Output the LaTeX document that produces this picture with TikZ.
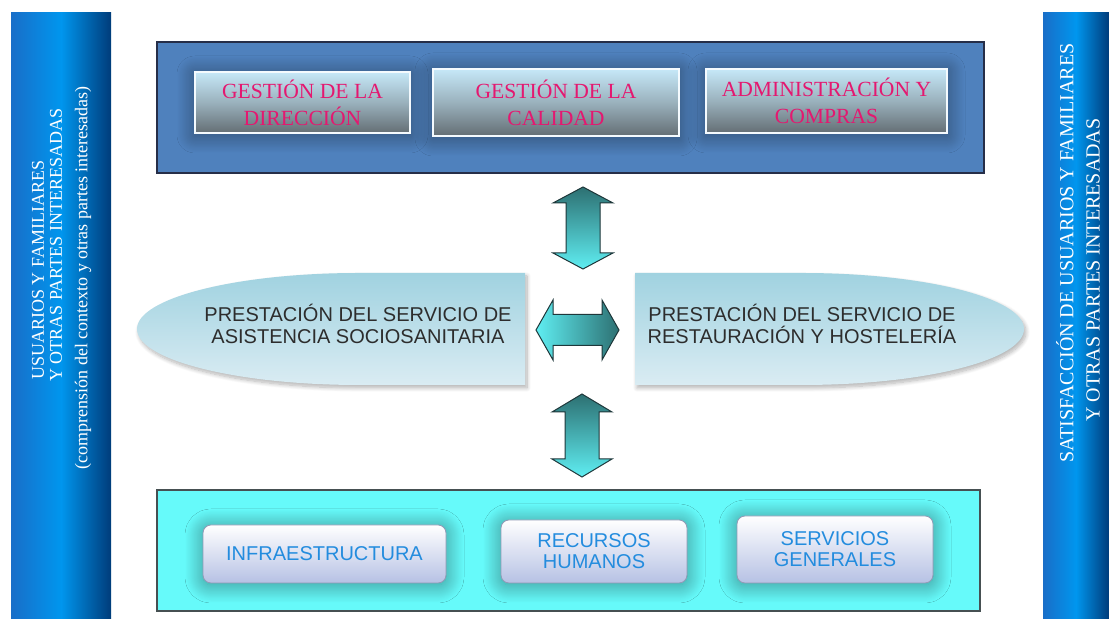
\documentclass[tikz,border=0pt]{standalone}
\usepackage{fontspec}
\setmainfont{Liberation Serif}
\setsansfont{Liberation Sans}
\usetikzlibrary{positioning,shadows.blur}
\definecolor{barmid}{RGB}{25,110,200}
\definecolor{barlight}{RGB}{0,150,238}
\definecolor{bardark}{RGB}{0,60,122}
\definecolor{gestblue}{RGB}{79,129,189}
\definecolor{gestline}{RGB}{38,46,72}
\definecolor{gestpink}{RGB}{228,24,112}
\definecolor{gestsky}{RGB}{198,232,248}
\definecolor{gestgray}{RGB}{100,110,116}
\definecolor{ovaltop}{RGB}{160,210,224}
\definecolor{ovalbot}{RGB}{218,236,243}
\definecolor{ovalink}{RGB}{45,45,45}
\definecolor{arrdark}{RGB}{45,112,114}
\definecolor{arrcyan}{RGB}{95,238,242}
\definecolor{arrline}{RGB}{30,55,58}
\definecolor{basecyan}{RGB}{102,250,250}
\definecolor{baseedge}{RGB}{70,80,82}
\definecolor{recblue}{RGB}{35,140,222}
\definecolor{reclav}{RGB}{182,193,228}

\begin{document}
\begin{tikzpicture}[x=0.5pt,y=0.5pt,
  sidebar/.style={inner sep=0pt, left color=barmid, right color=bardark, middle color=barlight},
  bartext/.style={text=white, rotate=90, inner sep=0pt},
  gestbox/.style={draw=white!80!gestsky, line width=0.6pt, inner sep=0pt, top color=gestsky, bottom color=gestgray, middle color=gestsky!55!gestgray, text=gestpink, align=center, font=\fontsize{10.8}{13.5}\selectfont, blur shadow={shadow xshift=0pt, shadow yshift=-1pt, shadow blur radius=9pt, shadow blur steps=30, shadow opacity=45}},
  oval/.style={top color=ovaltop, bottom color=ovalbot, blur shadow={shadow xshift=1pt, shadow yshift=-1.5pt, shadow blur radius=2pt, shadow blur steps=10, shadow opacity=30}},
  ovaltext/.style={text=ovalink, align=center, font=\sffamily\fontsize{10}{11}\selectfont},
  vblock/.style={draw=arrline, line width=0.5pt, top color=arrdark, bottom color=arrcyan},
  hblock/.style={draw=arrline, line width=0.5pt, left color=arrcyan, right color=arrdark},
  recbox/.style={draw=reclav!80!black, line width=0.4pt, rounded corners=4pt, inner sep=0pt, top color=white, bottom color=reclav, text=recblue, align=center, font=\sffamily\fontsize{10}{10.5}\selectfont, blur shadow={shadow xshift=0pt, shadow yshift=-1pt, shadow blur radius=9pt, shadow blur steps=30, shadow opacity=45}}]
\useasboundingbox (0,0) rectangle (1109,619);
% Side bars
\node[sidebar, minimum width=50pt, minimum height=303pt] (lbar) at (61,303) {};
\node[bartext, anchor=west, font=\fontsize{9}{10}\selectfont] (usu) at (38,239) {USUARIOS Y FAMILIARES};
\node[bartext, anchor=west, font=\fontsize{9}{10}\selectfont] (otras) at (56,237) {Y OTRAS PARTES INTERESADAS};
\node[bartext, font=\fontsize{9}{10}\selectfont] (compr) at (83,341) {(comprensión del contexto y otras partes interesadas)};
\node[sidebar, minimum width=33pt, minimum height=303pt] (rbar) at (1076,303) {};
\node[bartext, font=\fontsize{10}{11}\selectfont] (satis) at (1065,366) {SATISFACCIÓN DE USUARIOS Y FAMILIARES};
\node[bartext, font=\fontsize{10}{11}\selectfont] (partes) at (1093,349) {Y OTRAS PARTES INTERESADAS};
% Management block
\node[draw=gestline, line width=0.6pt, fill=gestblue, minimum width=413.5pt, minimum height=65.5pt] (mgmt) at (570.5,511.5) {};
\node[gestbox, minimum width=107.5pt, minimum height=30.5pt] (direc) at (302.5,516.5) {GESTIÓN DE LA\\DIRECCIÓN};
\node[gestbox, minimum width=123pt, minimum height=33.5pt] (calid) at (556,516.5) {GESTIÓN DE LA\\CALIDAD};
\node[gestbox, minimum width=120.5pt, minimum height=32pt] (admin) at (826.5,518) {ADMINISTRACIÓN Y\\COMPRAS};
% Service provision
\path[oval] (525,346) -- (359,346) arc[start angle=90, end angle=270, x radius=222, y radius=56] -- (525,234) -- cycle;
\path[oval] (635,346) -- (802,346) arc[start angle=90, end angle=-90, x radius=222, y radius=56] -- (635,234) -- cycle;
\node[ovaltext] (asist) at (358,295) {PRESTACIÓN DEL SERVICIO DE\\ASISTENCIA SOCIOSANITARIA};
\node[ovaltext] (resta) at (802,295) {PRESTACIÓN DEL SERVICIO DE\\RESTAURACIÓN Y HOSTELERÍA};
% Support block
\node[draw=baseedge, line width=0.6pt, fill=basecyan, minimum width=411.5pt, minimum height=60.5pt] (supp) at (568.5,68.5) {};
\node[recbox, minimum width=121.5pt, minimum height=29pt] (infra) at (324.5,65) {INFRAESTRUCTURA};
\node[recbox, minimum width=93pt, minimum height=31.5pt] (rrhh) at (594,67.5) {RECURSOS\\HUMANOS};
\node[recbox, minimum width=98pt, minimum height=33.5pt] (sgen) at (835,69.5) {SERVICIOS\\GENERALES};
% Block arrows
\coordinate (upc) at (583,391);
\coordinate (midc) at (577.5,289);
\coordinate (lowc) at (582,183.5);
\draw[vblock, shift={(upc)}] (0,41) -- (30,25) -- (17,25) -- (17,-25) -- (30,-25) -- (0,-41) -- (-30,-25) -- (-17,-25) -- (-17,25) -- (-30,25) -- cycle;
\draw[hblock, shift={(midc)}] (-41.5,0) -- (-24.5,30) -- (-24.5,15.5) -- (24.5,15.5) -- (24.5,30) -- (41.5,0) -- (24.5,-30) -- (24.5,-15.5) -- (-24.5,-15.5) -- (-24.5,-30) -- cycle;
\draw[vblock, shift={(lowc)}] (0,41.5) -- (30,23.5) -- (17,23.5) -- (17,-23.5) -- (30,-23.5) -- (0,-41.5) -- (-30,-23.5) -- (-17,-23.5) -- (-17,23.5) -- (-30,23.5) -- cycle;
\end{tikzpicture}
\end{document}
